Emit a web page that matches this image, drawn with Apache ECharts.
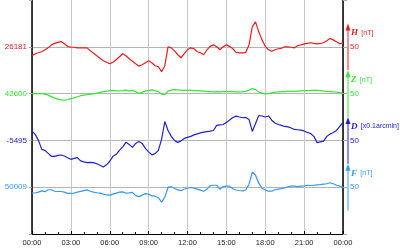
<!DOCTYPE html>
<html><head><meta charset="utf-8">
<script src="https://cdn.jsdelivr.net/npm/echarts@6/dist/echarts.min.js"></script>
<style>html,body{margin:0;padding:0;background:#fff}#c{width:400px;height:250px}</style>
</head><body><div id="c"></div>
<script>
// sample times in hours (every 15 minutes, 00:00 .. 24:00)
const hours = Array.from({length: 97}, (_, i) => i / 4);
const xTickLabels = ['00:00','03:00','06:00','09:00','12:00','15:00','18:00','21:00','00:00'];

const components = ['H', 'Z', 'D', 'F'];
const units = ['[nT]', '[nT]', '[x0.1arcmin]', '[nT]'];
const baselines = ['26181', '42600', '-5495', '50009'];
const scaleValue = 50;
const colors = ['#f01c1c', '#33e833', '#2020d4', '#3399ff'];

// deviations from baseline (H,Z,F in nT; D in 0.1 arcmin)
const hDev = [
 -9.6,-7.4,-6.4,-5.3,  -3.2,-1.1,2.1,3.7,  4.8,5.6,3.2,0.5,  -0.5,-0.5,-1.1,-1.1,
 -1.1,-1.1,-4.3,-6.9,  -9.6,-12.2,-14.9,-16.5,  -18.1,-16.5,-13.8,-10.6,  -7.4,-9.6,-12.8,-15.4,
 -18.1,-20.7,-19.2,-17.0,  -14.9,-17.0,-20.2,-21.3,  -26.6,-20.2,0,-1.1,  -4.3,-8.5,-11.7,-7.4,
 -3.2,-1.1,-2.1,-5.3,  -6.4,-8.5,-3.2,0.5,  2.1,0,-3.2,0,  2.1,0.5,-2.1,-5.9,
 -6.4,-6.4,-5.9,2.1,  21.3,26.6,16.0,7.4,  0.5,-3.2,-4.8,-3.2,  -2.1,-1.6,0,0,
 -0.5,-1.1,1.1,2.1,  3.2,3.7,4.3,3.7,  3.2,3.7,4.3,6.4,  9.0,7.4,5.3,3.2,  4.3];
const zDev = [
 -0.3,0,0,0,  -0.5,-1.6,-3.2,-4.8,  -5.9,-6.7,-7.1,-6.4,  -5.3,-4.5,-3.4,-2.3,
 -1.6,-1.1,-0.5,-0.2,  0.5,1.3,2.1,2.6,  2.9,3.2,3.2,3.0,  3.2,3.7,2.7,3.5,
 2.1,0,1.6,2.7,  3.5,3.9,3.2,2.1,  -0.5,-1.1,2.7,3.7,  4.3,3.9,3.7,3.5,
 3.5,3.4,3.2,3.2,  3.0,2.7,2.1,2.1,  1.9,2.1,1.8,2.1,  2.1,2.3,2.1,1.8,
 1.9,2.1,2.4,3.7,  5.3,4.3,1.6,0.5,  -0.2,0,0.9,1.6,  1.8,2.1,2.1,2.3,
 2.4,2.4,2.7,3.0,  3.2,3.2,3.4,3.5,  3.5,3.2,2.7,2.3,  2.1,1.8,1.6,1.1,  0.3];
const dDev = [
 9.9,6.4,0,-9.6,  -10.6,-13.8,-17.0,-17.0,  -16.0,-15.6,-16.7,-18.6,  -20.2,-19.2,-18.4,-21.8,
 -22.9,-23.7,-23.4,-23.7,  -25.0,-26.6,-28.4,-26.1,  -22.3,-17.0,-14.9,-10.6,  -6.9,-2.1,-4.3,-7.4,
 -3.2,-1.1,-3.2,-8.5,  -12.2,-15.4,-14.2,-10.6,  1.1,20.2,10.6,4.3,  0,-2.1,-0.5,2.1,
 3.2,4.3,5.9,6.9,  8.0,8.8,9.4,9.9,  10.6,16.0,16.5,17.0,  19.2,21.8,24.5,25.9,
 25.0,24.2,24.5,22.3,  9.6,18.1,26.6,26.1,  25.0,26.1,21.6,18.6,  17.0,16.0,14.9,14.4,
 13.3,11.7,11.4,11.0,  10.1,8.5,7.4,4.3,  -2.4,-1.6,-0.7,4.3,  6.9,8.5,10.6,14.9,  19.2];
const fDev = [
 -6.4,-5.9,-5.3,-3.9,  -4.8,-2.7,-2.7,-4.3,  -4.6,-4.6,-5.3,-6.6,  -6.6,-6.4,-5.3,-4.5,
 -3.7,-2.9,-4.3,-5.3,  -5.9,-6.4,-7.4,-8.3,  -8.5,-7.4,-6.4,-5.3,  -5.0,-6.4,-6.1,-5.6,
 -9.0,-10.1,-8.5,-6.9,  -7.4,-9.3,-9.6,-11.2,  -16.0,-10.6,0,0.5,  -1.4,-2.9,-3.7,-1.9,
 -1.1,-0.3,-1.1,-2.1,  -3.2,-4.3,-2.1,1.6,  2.1,2.1,-2.1,0.7,  1.1,1.1,-1.6,-3.0,
 -3.5,-3.9,-3.0,3.2,  16.0,12.8,4.3,-1.1,  -2.9,-4.3,-4.3,-2.7,  -2.1,-1.6,-0.7,0.5,
 1.1,1.1,0.7,1.1,  1.4,2.1,1.8,2.1,  2.4,2.7,3.2,3.7,  4.8,3.7,2.1,1.1,  0];

const devs = [hDev, zDev, dDev, fDev];
// each trace sits on its own band of the shared axis: H at 4, Z at 3, D at 2, F at 1
const bands = [4, 3, 2, 1];

const chart = echarts.init(document.getElementById('c'), null, {renderer: 'canvas'});
const leftLabel = {4: baselines[0], 3: baselines[1], 2: baselines[2], 1: baselines[3]};
const bandColor = {4: colors[0], 3: colors[1], 2: colors[2], 1: colors[3]};

const series = devs.map((dev, k) => ({
  type: 'line',
  name: components[k],
  showSymbol: false,
  symbol: 'none',
  animation: false,
  lineStyle: {color: colors[k], width: 1.2},
  data: hours.map((h, i) => [h, bands[k] + dev[i] / scaleValue])
}));

chart.setOption({
  animation: false,
  grid: {left: 32, right: 57, top: 0, bottom: 16, containLabel: false},
  xAxis: {
    type: 'value', min: 0, max: 24, interval: 3,
    axisLine: {lineStyle: {color: '#000', width: 1}},
    axisTick: {show: true, inside: true, length: 3, lineStyle: {color: '#000'}},
    minorTick: {show: true, splitNumber: 3, length: 2, lineStyle: {color: '#000'}},
    splitLine: {show: true, lineStyle: {color: '#c8c8c8', width: 1}},
    axisLabel: {margin: 5, fontSize: 7.5, color: '#222', fontFamily: 'Liberation Sans',
      formatter: v => xTickLabels[Math.round(v / 3)]}
  },
  yAxis: [{
    type: 'value', min: 0, max: 5, interval: 1, position: 'left',
    axisLine: {show: true, lineStyle: {color: '#000', width: 1.5}},
    axisTick: {show: true, length: 3, lineStyle: {color: '#aaa'}},
    splitLine: {show: true, lineStyle: {color: ['transparent','#b4b4b4','#b4b4b4','#b4b4b4','#b4b4b4','transparent'], width: 1}},
    axisLabel: {margin: 5, fontSize: 8, fontFamily: 'Liberation Sans',
      formatter: v => leftLabel[v] || '',
      color: v => bandColor[v] || '#000'}
  }, {
    type: 'value', min: 0, max: 5, interval: 1, position: 'right',
    axisLine: {show: true, lineStyle: {color: '#000', width: 1.5}},
    axisTick: {show: true, length: 4, lineStyle: {color: '#aaa'}},
    splitLine: {show: false},
    axisLabel: {margin: 7, fontSize: 8, fontFamily: 'Liberation Sans',
      formatter: v => (leftLabel[v] ? String(scaleValue) : ''),
      color: v => bandColor[v] || '#000'}
  }],
  series: series
});

// scale arrows on the right, positioned via the chart's own scales
const graphics = [];
bands.forEach((b, k) => {
  const base = chart.convertToPixel({gridIndex: 0}, [24, b]);
  const top = chart.convertToPixel({gridIndex: 0}, [24, b + 0.5]);
  const bot = chart.convertToPixel({gridIndex: 0}, [24, b - 0.5]);
  const ax = base[0] + 5;
  graphics.push({type: 'line', shape: {x1: ax, y1: top[1] + 5, x2: ax, y2: bot[1]},
    style: {stroke: colors[k], lineWidth: 1}, silent: true});
  graphics.push({type: 'polygon', shape: {points: [[ax, top[1]], [ax - 2.5, top[1] + 7], [ax + 2.5, top[1] + 7]]},
    style: {fill: colors[k]}, silent: true});
  graphics.push({type: 'text', x: ax + 3, y: base[1] - 14, silent: true,
    style: {text: '{a|' + components[k] + '} {b|' + units[k] + '}', verticalAlign: 'middle', align: 'left',
      rich: {
        a: {fontFamily: 'Liberation Serif', fontStyle: 'italic', fontWeight: 'bold', fontSize: 9, fill: colors[k]},
        b: {fontFamily: 'Liberation Sans', fontSize: 7, fill: colors[k]}
      }}});
});
chart.setOption({graphic: graphics});
</script>
</body></html>
